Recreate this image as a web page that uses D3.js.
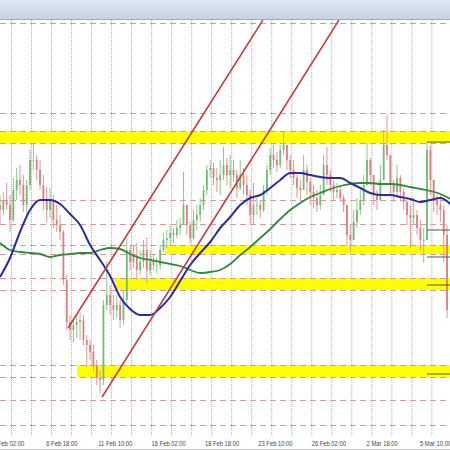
<!DOCTYPE html>
<html><head><meta charset="utf-8">
<script src="https://cdn.jsdelivr.net/npm/d3@7"></script>
<style>html,body{margin:0;padding:0;background:#fff;overflow:hidden;} svg{display:block;}</style>
</head><body>
<script>
// 4-hour candles
const firstOpen = 1.0815;
const highs = [1.0825,1.0828,1.0837,1.0825,1.0842,1.0852,1.0855,1.0845,1.0840,1.0870,
1.0877,1.0865,1.0860,1.0845,1.0833,1.0832,1.0825,1.0815,1.0805,1.0790,
1.0745,1.0705,1.0702,1.0705,1.0708,1.0705,1.0685,1.0680,1.0675,1.0660,
1.0650,1.0720,1.0758,1.0735,1.0725,1.0725,1.0720,1.0730,1.0782,1.0775,
1.0775,1.0777,1.0770,1.0780,1.0783,1.0770,1.0765,1.0763,1.0775,1.0787,
1.0790,1.0794,1.0792,1.0800,1.0802,1.0848,1.0815,1.0798,1.0810,1.0815,
1.0822,1.0835,1.0855,1.0860,1.0857,1.0852,1.0860,1.0873,1.0862,1.0865,
1.0860,1.0850,1.0860,1.0852,1.0845,1.0830,1.0837,1.0822,1.0820,1.0835,
1.0855,1.0872,1.0875,1.0868,1.0875,1.0888,1.0872,1.0865,1.0860,1.0845,
1.0840,1.0865,1.0855,1.0842,1.0835,1.0830,1.0835,1.0865,1.0873,1.0850,
1.0840,1.0837,1.0834,1.0825,1.0815,1.0795,1.0810,1.0822,1.0830,1.0845,
1.0877,1.0862,1.0845,1.0830,1.0855,1.0890,1.0905,1.0860,1.0840,1.0855,
1.0845,1.0832,1.0822,1.0815,1.0822,1.0810,1.0800,1.0792,1.0878,1.0875,
1.0835,1.0825,1.0825,1.0815,1.0795];
const lows = [1.0795,1.0805,1.0810,1.0788,1.0798,1.0820,1.0825,1.0808,1.0805,1.0830,
1.0850,1.0840,1.0830,1.0810,1.0798,1.0802,1.0792,1.0788,1.0780,1.0735,
1.0690,1.0680,1.0678,1.0682,1.0680,1.0675,1.0653,1.0660,1.0648,1.0635,
1.0627,1.0635,1.0710,1.0705,1.0700,1.0702,1.0692,1.0695,1.0715,1.0750,
1.0752,1.0740,1.0745,1.0752,1.0737,1.0745,1.0750,1.0747,1.0750,1.0768,
1.0772,1.0775,1.0777,1.0782,1.0785,1.0795,1.0785,1.0777,1.0780,1.0790,
1.0798,1.0810,1.0825,1.0842,1.0835,1.0828,1.0825,1.0840,1.0835,1.0832,
1.0838,1.0822,1.0830,1.0825,1.0815,1.0795,1.0796,1.0805,1.0802,1.0808,
1.0825,1.0845,1.0852,1.0848,1.0852,1.0865,1.0850,1.0842,1.0835,1.0822,
1.0820,1.0830,1.0825,1.0815,1.0812,1.0808,1.0810,1.0830,1.0835,1.0828,
1.0820,1.0822,1.0818,1.0808,1.0775,1.0768,1.0780,1.0792,1.0805,1.0815,
1.0835,1.0835,1.0815,1.0810,1.0820,1.0840,1.0860,1.0825,1.0818,1.0825,
1.0820,1.0810,1.0795,1.0772,1.0795,1.0785,1.0770,1.0757,1.0780,1.0825,
1.0808,1.0805,1.0798,1.0758,1.0702];
const closes = [1.0810,1.0820,1.0815,1.0800,1.0830,1.0840,1.0835,1.0815,1.0835,1.0860,
1.0860,1.0850,1.0835,1.0820,1.0810,1.0820,1.0800,1.0795,1.0788,1.0740,
1.0698,1.0690,1.0695,1.0698,1.0700,1.0680,1.0675,1.0668,1.0655,1.0642,
1.0640,1.0715,1.0725,1.0715,1.0710,1.0715,1.0700,1.0720,1.0770,1.0758,
1.0765,1.0750,1.0758,1.0770,1.0750,1.0758,1.0755,1.0755,1.0770,1.0780,
1.0782,1.0787,1.0785,1.0792,1.0795,1.0815,1.0795,1.0782,1.0800,1.0805,
1.0815,1.0830,1.0850,1.0852,1.0842,1.0840,1.0845,1.0855,1.0845,1.0850,
1.0845,1.0832,1.0845,1.0835,1.0825,1.0805,1.0815,1.0815,1.0810,1.0830,
1.0850,1.0865,1.0860,1.0855,1.0870,1.0875,1.0860,1.0850,1.0842,1.0832,
1.0830,1.0850,1.0838,1.0828,1.0822,1.0815,1.0825,1.0855,1.0845,1.0835,
1.0828,1.0830,1.0822,1.0815,1.0785,1.0780,1.0798,1.0810,1.0820,1.0835,
1.0860,1.0845,1.0825,1.0820,1.0840,1.0875,1.0865,1.0835,1.0828,1.0842,
1.0828,1.0818,1.0805,1.0802,1.0805,1.0792,1.0780,1.0780,1.0870,1.0840,
1.0820,1.0815,1.0810,1.0785,1.0710];

// moving averages, one value every 3 bars
const maStep = 3;
const maBlue = [1.0743,1.0762,1.0788,1.0810,1.0820,1.0820,1.0816,1.0806,1.0795,1.0775,
1.0760,1.0744,1.0723,1.0711,1.0705,1.0705,1.0712,1.0723,1.0739,1.0755,
1.0767,1.0778,1.0792,1.0803,1.0815,1.0822,1.0825,1.0832,1.0840,1.0847,
1.0847,1.0845,1.0843,1.0842,1.0842,1.0837,1.0832,1.0827,1.0825,1.0825,
1.0823,1.0821,1.0818,1.0820,1.0822,1.0816];
const maGreen = [1.0777,1.0770,1.0768,1.0767,1.0766,1.0763,1.0765,1.0766,1.0767,1.0767,
1.0770,1.0772,1.0771,1.0766,1.0762,1.0760,1.0758,1.0756,1.0754,1.0750,
1.0747,1.0748,1.0750,1.0756,1.0765,1.0773,1.0782,1.0791,1.0801,1.0810,
1.0817,1.0823,1.0827,1.0831,1.0834,1.0836,1.0837,1.0837,1.0836,1.0836,
1.0835,1.0833,1.0831,1.0829,1.0826,1.0821];

const dashedLevels = [1.0997,1.0907,1.0889,1.0877,1.0820,1.0796,1.0775,1.0766,1.0742,1.0730,1.0655,1.0643,1.0620,1.0595];
const zoneTops = [1.0889,1.0775,1.0742,1.0655];
const zoneBottoms = [1.0877,1.0766,1.0730,1.0643];
const zoneStartBars = [0,49.5,34.5,23.1];
const channelStart = [[20.4,1.0692],[30.6,1.0623]];
const channelEnd = [[78.8,1.1000],[101.6,1.1000]];
const markerLevels = [1.0878,1.0790,1.0763,1.0735,1.0646];
const markerStartBar = 128;

const timeLabels = ["4 Feb 02:00","6 Feb 18:00","11 Feb 10:00","16 Feb 02:00","18 Feb 18:00","23 Feb 10:00","26 Feb 02:00","2 Mar 18:00","5 Mar 10:00"];
const firstLabelBar = 2.55, barsPerLabel = 16;
const firstGridBar = 3.45, barsPerDay = 6;

const W = 450, H = 450, plotTop = 20, plotBottom = 436;
const svg = d3.select("body").append("svg").attr("width", W).attr("height", H);
const x = d3.scaleLinear().domain([0,135]).range([0,450.4]);
const y = d3.scaleLinear().domain([1.0584,1.1000]).range([plotBottom, plotTop]);

const defs = svg.append("defs");
const g1 = defs.append("linearGradient").attr("id","hdr").attr("x1",0).attr("y1",0).attr("x2",0).attr("y2",1);
g1.append("stop").attr("offset","0%").attr("stop-color","#dfe8f2");
g1.append("stop").attr("offset","100%").attr("stop-color","#c6d3e4");
defs.append("clipPath").attr("id","plot").append("rect").attr("x",0).attr("y",plotTop).attr("width",W).attr("height",plotBottom-plotTop);

svg.append("rect").attr("width",W).attr("height",H).attr("fill","#fff");
svg.append("rect").attr("x",0).attr("y",0).attr("width",W).attr("height",19).attr("fill","url(#hdr)");
svg.append("line").attr("x1",0).attr("x2",W).attr("y1",19.5).attr("y2",19.5).attr("stroke","#9fabbd").attr("stroke-width",1);

const plot = svg.append("g").attr("clip-path","url(#plot)");

// vertical grid
const gridBars = d3.range(firstGridBar, 135, barsPerDay);
plot.selectAll("line.vg").data(gridBars).join("line").attr("class","vg")
  .attr("x1",d=>x(d)).attr("x2",d=>x(d)).attr("y1",plotTop).attr("y2",plotBottom)
  .attr("stroke","#b0b0b0").attr("stroke-width",1).attr("stroke-dasharray","1,1");

// yellow zones
plot.selectAll("rect.zone").data(zoneTops).join("rect").attr("class","zone")
  .attr("x",(d,i)=>x(zoneStartBars[i])).attr("width",(d,i)=>W - x(zoneStartBars[i]))
  .attr("y",d=>y(d)).attr("height",(d,i)=>y(zoneBottoms[i]) - y(d))
  .attr("fill","#ffff00");

// dashed red horizontals
plot.selectAll("line.hl").data(dashedLevels).join("line").attr("class","hl")
  .attr("x1",0).attr("x2",W).attr("y1",d=>Math.round(y(d))+0.5).attr("y2",d=>Math.round(y(d))+0.5)
  .attr("stroke","#d99a9a").attr("stroke-width",1).attr("stroke-dasharray","6,4");

// candles
const candles = closes.map((c,i)=>({i, o: i===0?firstOpen:closes[i-1], h: highs[i], l: lows[i], c}));
const cg = plot.append("g");
cg.selectAll("line.wick").data(candles).join("line").attr("class","wick")
  .attr("x1",d=>x(d.i)).attr("x2",d=>x(d.i))
  .attr("y1",d=>y(Math.max(d.h,d.o,d.c))).attr("y2",d=>y(Math.min(d.l,d.o,d.c)))
  .attr("stroke",d=>d.c>=d.o?"#8cc88c":"#e69494").attr("stroke-width",1);
cg.selectAll("rect.body").data(candles).join("rect").attr("class","body")
  .attr("x",d=>x(d.i)-0.9).attr("width",1.8)
  .attr("y",d=>y(Math.max(d.o,d.c))).attr("height",d=>Math.max(0.8,Math.abs(y(d.o)-y(d.c))))
  .attr("fill",d=>d.c>=d.o?"#74bb74":"#e17f7f");

// moving averages
const maLine = d3.line().x((d,i)=>x(i*maStep)).y(d=>y(d)).curve(d3.curveMonotoneX);
plot.append("path").datum(maGreen).attr("d",maLine).attr("fill","none").attr("stroke","#2f8a3a").attr("stroke-width",1.8);
plot.append("path").datum(maBlue).attr("d",maLine).attr("fill","none").attr("stroke","#2a2aa6").attr("stroke-width",2);

// channel lines
plot.selectAll("line.ch").data(channelStart).join("line").attr("class","ch")
  .attr("x1",d=>x(d[0])).attr("y1",d=>y(d[1]))
  .attr("x2",(d,i)=>x(channelEnd[i][0])).attr("y2",(d,i)=>y(channelEnd[i][1]))
  .attr("stroke","#c8373a").attr("stroke-width",1.5);

// price markers at right
plot.selectAll("line.mk").data(markerLevels).join("line").attr("class","mk")
  .attr("x1",x(markerStartBar)).attr("x2",W).attr("y1",d=>y(d)).attr("y2",d=>y(d))
  .attr("stroke","#555").attr("stroke-width",1);

// x-axis labels
svg.selectAll("text.tl").data(timeLabels).join("text").attr("class","tl")
  .attr("x",(d,i)=>x(firstLabelBar + i*barsPerLabel)).attr("y",445.5)
  .attr("text-anchor","middle").attr("font-family","'Liberation Sans', Arial, sans-serif")
  .attr("font-size",6.5).attr("fill","#444")
  .attr("textLength",d=>d.length*2.85).attr("lengthAdjust","spacingAndGlyphs")
  .text(d=>d);
svg.append("line").attr("x1",0).attr("x2",W).attr("y1",449.5).attr("y2",449.5).attr("stroke","#c8c8c8");
</script>
</body></html>
